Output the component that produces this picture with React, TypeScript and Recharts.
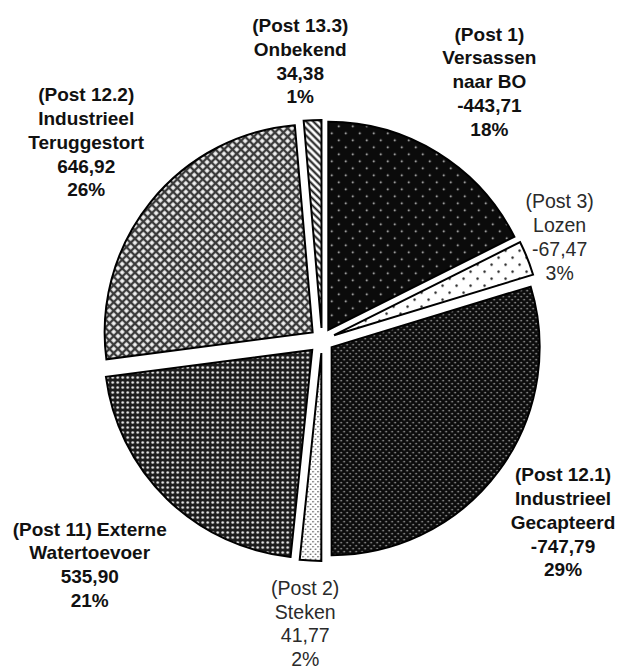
import React from 'react';
import { PieChart, Pie, Cell } from 'recharts';

const categories = [
  '(Post 1)\nVersassen\nnaar BO',
  '(Post 3)\nLozen',
  '(Post 12.1)\nIndustrieel\nGecapteerd',
  '(Post 2)\nSteken',
  '(Post 11) Externe\nWatertoevoer',
  '(Post 12.2)\nIndustrieel\nTeruggestort',
  '(Post 13.3)\nOnbekend',
];
const values = [-443.71, -67.47, -747.79, 41.77, 535.9, 646.92, 34.38];
const percentLabels = ['18%', '3%', '29%', '2%', '21%', '26%', '1%'];

// styling / layout config
const patternIds = ['pPost1', 'pPost3', 'pPost121', 'pPost2', 'pPost11', 'pPost122', 'pPost133'];
const explode = [12, 13, 12, 13, 14, 12, 12];
const labelRadius = [308, 259, 302, 284, 323, 308, 280];
const labelShift = [-1.2, 1.7, -0.5, -0.4, -1.7, -1.2, 2];
const labelBold = [true, false, true, false, true, true, true];
const labelColor = ['#111', '#2a2a2a', '#111', '#2a2a2a', '#111', '#111', '#111'];

const data = categories.map((name, i) => ({ name, value: Math.abs(values[i]) }));

const CX = 322;
const CY = 340;
const R = 208;
const START = 90;

const total = data.reduce((s, d) => s + d.value, 0);
const midAngles: number[] = [];
{
  let cum = 0;
  data.forEach((d) => {
    midAngles.push(START - (360 * (cum + d.value / 2)) / total);
    cum += d.value;
  });
}

const fmt = (v: number) => v.toFixed(2).replace('.', ',');

const renderLabel = (props: any) => {
  const { cx, cy, midAngle, index } = props;
  const r = labelRadius[index];
  const a = ((midAngle + labelShift[index]) * Math.PI) / 180;
  const x = cx + r * Math.cos(a);
  const y = cy - r * Math.sin(a);
  const lines = [...categories[index].split('\n'), fmt(values[index]), percentLabels[index]];
  const lh = 23.8;
  const y0 = y - ((lines.length - 1) * lh) / 2;
  return (
    <text
      key={`lbl-${index}`}
      x={x}
      y={y0}
      textAnchor="middle"
      fontFamily="'Liberation Sans', Arial, sans-serif"
      fontSize={labelBold[index] ? 19 : 19.5}
      fontWeight={labelBold[index] ? 'bold' : 'normal'}
      fill={labelColor[index]}
    >
      {lines.map((l, k) => (
        <tspan key={k} x={x} y={y0 + k * lh} dy="0.36em">
          {l}
        </tspan>
      ))}
    </text>
  );
};

export default function App() {
  return (
    <div style={{ position: 'absolute', left: 0, top: 0, width: 617, height: 669, background: '#fff' }}>
      <PieChart width={617} height={669} margin={{ top: 0, right: 0, bottom: 0, left: 0 }}>
        <defs>
          <pattern id="pPost1" width="14" height="14" patternUnits="userSpaceOnUse">
            <rect width="14" height="14" fill="#0b0b0b" />
            <circle cx="3.5" cy="3.5" r="0.9" fill="#d8d8d8" />
            <circle cx="10.5" cy="10.5" r="0.9" fill="#d8d8d8" />
          </pattern>
          <pattern id="pPost3" width="14" height="14" patternUnits="userSpaceOnUse">
            <rect width="14" height="14" fill="#fff" />
            <circle cx="3.5" cy="3.5" r="1.2" fill="#222" />
            <circle cx="10.5" cy="10.5" r="1.2" fill="#222" />
          </pattern>
          <pattern id="pPost121" width="6" height="6" patternUnits="userSpaceOnUse">
            <rect width="6" height="6" fill="#0b0b0b" />
            <circle cx="1.5" cy="1.5" r="0.85" fill="#bbb" />
            <circle cx="4.5" cy="4.5" r="0.85" fill="#bbb" />
          </pattern>
          <pattern id="pPost2" width="5" height="5" patternUnits="userSpaceOnUse">
            <rect width="5" height="5" fill="#fff" />
            <circle cx="1.25" cy="1.25" r="0.75" fill="#333" />
            <circle cx="3.75" cy="3.75" r="0.75" fill="#333" />
          </pattern>
          <pattern id="pPost11" width="5" height="5" patternUnits="userSpaceOnUse">
            <rect width="5" height="5" fill="#1c1c1c" />
            <circle cx="2.5" cy="2.5" r="1.3" fill="#eee" />
          </pattern>
          <pattern id="pPost122" width="6" height="6" patternUnits="userSpaceOnUse" patternTransform="rotate(45)">
            <rect width="6" height="6" fill="#3a3a3a" />
            <rect x="1.2" y="1.2" width="3.6" height="3.6" fill="#f4f4f4" />
          </pattern>
          <pattern id="pPost133" width="5" height="5" patternUnits="userSpaceOnUse" patternTransform="rotate(45)">
            <rect width="5" height="5" fill="#fff" />
            <line x1="0" y1="2.5" x2="5" y2="2.5" stroke="#111" strokeWidth="2" />
          </pattern>
        </defs>
        <Pie
          data={data}
          dataKey="value"
          nameKey="name"
          cx={CX}
          cy={CY}
          outerRadius={R}
          startAngle={START}
          endAngle={START - 360}
          stroke="#000"
          strokeWidth={2}
          isAnimationActive={false}
          label={renderLabel}
          labelLine={false}
        >
          {data.map((d, i) => {
            const a = (midAngles[i] * Math.PI) / 180;
            const dx = explode[i] * Math.cos(a);
            const dy = -explode[i] * Math.sin(a);
            return (
              <Cell
                key={d.name}
                fill={`url(#${patternIds[i]})`}
                style={{ transform: `translate(${dx}px, ${dy}px)` }}
              />
            );
          })}
        </Pie>
      </PieChart>
    </div>
  );
}
